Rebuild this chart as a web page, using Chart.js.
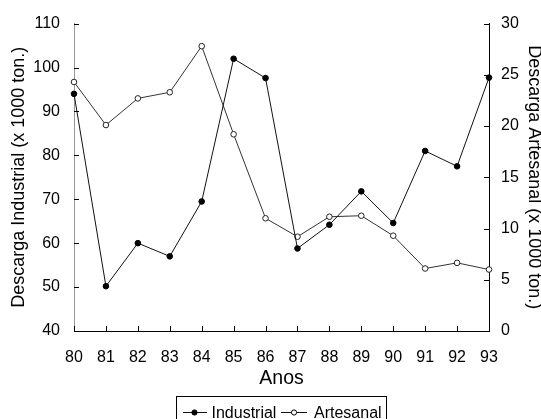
<!DOCTYPE html>
<html>
<head>
<meta charset="utf-8">
<script src="https://cdn.jsdelivr.net/npm/chart.js@4.4.0/dist/chart.umd.min.js"></script>
<style>
html,body{margin:0;padding:0;background:#fff;}
canvas{display:block;}
</style>
</head>
<body>
<canvas id="c" width="541" height="419"></canvas>
<script>
const years = ['80','81','82','83','84','85','86','87','88','89','90','91','92','93'];
const industrial = [94, 50.2, 60, 57, 69.5, 102, 97.6, 58.8, 64.2, 71.8, 64.6, 81, 77.5, 97.7];
const artesanal = [24.3, 20.1, 22.7, 23.3, 27.8, 19.2, 11.0, 9.2, 11.15, 11.25, 9.3, 6.1, 6.65, 6.0];
const seriesNames = ['Industrial', 'Artesanal'];
const axisTitles = ['Anos', 'Descarga Industrial (x 1000 ton.)', 'Descarga Artesanal (x 1000 ton.)'];

const FONT = "'Liberation Sans', Arial, sans-serif";

const insideTicks = {
  id: 'insideTicks',
  afterDraw(chart) {
    const ctx = chart.ctx;
    const a = chart.chartArea;
    const len = 5;
    ctx.save();
    ctx.strokeStyle = '#000';
    ctx.lineWidth = 1;
    ctx.beginPath();
    const xs = chart.scales.x;
    xs.ticks.forEach((t, i) => {
      const px = Math.round(xs.getPixelForTick(i)) + 0.5;
      ctx.moveTo(px, a.bottom);
      ctx.lineTo(px, a.bottom - len);
    });
    const yl = chart.scales.y;
    yl.ticks.forEach(t => {
      const py = Math.round(yl.getPixelForValue(t.value)) + 0.5;
      ctx.moveTo(a.left, py);
      ctx.lineTo(a.left + len, py);
    });
    const yr = chart.scales.y1;
    yr.ticks.forEach(t => {
      const py = Math.round(yr.getPixelForValue(t.value)) + 0.5;
      ctx.moveTo(a.right, py);
      ctx.lineTo(a.right - len, py);
    });
    ctx.stroke();
    ctx.restore();
  }
};

const boxLegend = {
  id: 'boxLegend',
  afterDraw(chart) {
    const ctx = chart.ctx;
    ctx.save();
    const bx = 176.5, by = 396.5, bw = 210;
    ctx.strokeStyle = '#000';
    ctx.lineWidth = 1;
    ctx.strokeRect(bx, by, bw, 40);
    ctx.font = '16px ' + FONT;
    ctx.fillStyle = '#000';
    ctx.textBaseline = 'alphabetic';
    const ly = 412.5;
    const items = [
      {x0: 183, x1: 207, cx: 194.5, tx: 211.5, fill: '#000'},
      {x0: 281, x1: 307, cx: 294, tx: 314, fill: '#fff'}
    ];
    items.forEach((it, i) => {
      ctx.beginPath();
      ctx.moveTo(it.x0, ly);
      ctx.lineTo(it.x1, ly);
      ctx.strokeStyle = '#111';
      ctx.stroke();
      ctx.beginPath();
      ctx.arc(it.cx, ly, 2.6, 0, Math.PI * 2);
      ctx.fillStyle = it.fill;
      ctx.fill();
      ctx.strokeStyle = '#000';
      ctx.stroke();
      ctx.fillStyle = '#000';
      ctx.fillText(seriesNames[i], it.tx, 417.5);
    });
    ctx.restore();
  }
};

new Chart(document.getElementById('c'), {
  type: 'line',
  data: {
    labels: years,
    datasets: [
      {
        label: seriesNames[0], data: industrial, yAxisID: 'y',
        borderColor: '#111', borderWidth: 1, tension: 0, fill: false, clip: false,
        pointRadius: 2.8, pointBackgroundColor: '#000', pointBorderColor: '#000', pointBorderWidth: 1
      },
      {
        label: seriesNames[1], data: artesanal, yAxisID: 'y1',
        borderColor: '#333', borderWidth: 1, tension: 0, fill: false, clip: false,
        pointRadius: 2.8, pointBackgroundColor: '#fff', pointBorderColor: '#222', pointBorderWidth: 1
      }
    ]
  },
  options: {
    responsive: false,
    devicePixelRatio: 1,
    animation: false,
    layout: { padding: { top: 20, bottom: 25, left: 0, right: 0 } },
    plugins: { legend: { display: false }, tooltip: { enabled: false } },
    scales: {
      x: {
        type: 'category', offset: false,
        grid: { display: false, drawTicks: false, tickLength: 0 },
        border: { display: true, color: '#000', width: 1 },
        ticks: { font: { family: FONT, size: 16 }, color: '#000', padding: 16.7, maxRotation: 0, autoSkip: false },
        title: { display: true, text: axisTitles[0], color: '#000', font: { family: FONT, size: 19.5 }, padding: { top: 0, bottom: 4 } },
        afterFit(s) { s.height = 63; }
      },
      y: {
        position: 'left', min: 40, max: 110,
        grid: { display: false, drawTicks: false, tickLength: 0 },
        border: { display: true, color: '#999', width: 1 },
        ticks: { stepSize: 10, font: { family: FONT, size: 16 }, color: '#000', padding: 14 },
        title: { display: true, text: axisTitles[1], color: '#000', font: { family: FONT, size: 18 }, padding: { top: 8.5, bottom: 0 } },
        afterFit(s) { s.width = 74; }
      },
      y1: {
        position: 'right', min: 0, max: 30,
        grid: { display: false, drawTicks: false, tickLength: 0 },
        border: { display: true, color: '#000', width: 1 },
        ticks: { stepSize: 5, font: { family: FONT, size: 16 }, color: '#000', padding: 12 },
        title: { display: true, text: axisTitles[2], color: '#000', font: { family: FONT, size: 18, lineHeight: 0.75 }, padding: { top: 0, bottom: 0 } },
        afterFit(s) { s.width = 52; }
      }
    }
  },
  plugins: [insideTicks, boxLegend]
});
</script>
</body>
</html>
